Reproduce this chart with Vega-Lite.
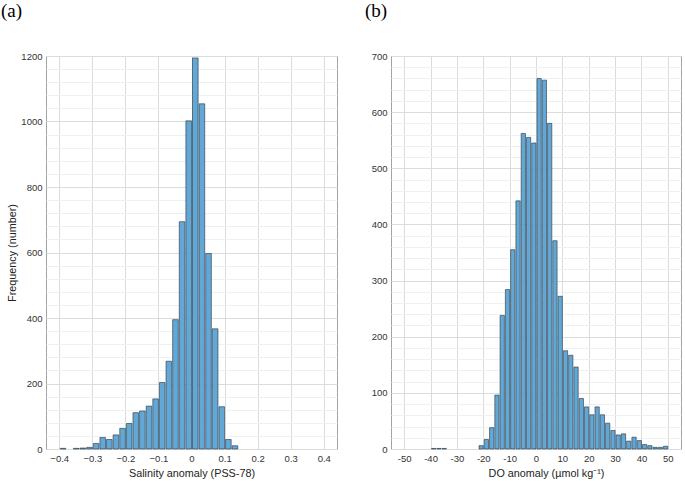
{
  "$schema": "https://vega.github.io/schema/vega-lite/v6.json",
  "padding": {"left": 0, "top": 1, "right": 2, "bottom": 2},
  "background": "white",
  "spacing": 26,
  "config": {
    "view": {"stroke": "#a3a3a3", "strokeWidth": 1},
    "axis": {
      "labelFont": "Liberation Sans",
      "labelFontSize": 9.5,
      "labelColor": "#333333",
      "titleFont": "Liberation Sans",
      "titleFontSize": 10.8,
      "titleFontWeight": "normal",
      "titleColor": "#222222"
    },
    "title": {"font": "Liberation Serif", "fontSize": 19, "fontWeight": "normal", "color": "#000000"}
  },
  "datasets": {
    "sal": [
      {"x0": -0.40, "x1": -0.38, "count": 2},
      {"x0": -0.36, "x1": -0.34, "count": 2},
      {"x0": -0.34, "x1": -0.32, "count": 3},
      {"x0": -0.32, "x1": -0.30, "count": 5},
      {"x0": -0.30, "x1": -0.28, "count": 17},
      {"x0": -0.28, "x1": -0.26, "count": 35},
      {"x0": -0.26, "x1": -0.24, "count": 29},
      {"x0": -0.24, "x1": -0.22, "count": 43},
      {"x0": -0.22, "x1": -0.20, "count": 63},
      {"x0": -0.20, "x1": -0.18, "count": 78},
      {"x0": -0.18, "x1": -0.16, "count": 111},
      {"x0": -0.16, "x1": -0.14, "count": 116},
      {"x0": -0.14, "x1": -0.12, "count": 131},
      {"x0": -0.12, "x1": -0.10, "count": 153},
      {"x0": -0.10, "x1": -0.08, "count": 203},
      {"x0": -0.08, "x1": -0.06, "count": 268},
      {"x0": -0.06, "x1": -0.04, "count": 395},
      {"x0": -0.04, "x1": -0.02, "count": 694},
      {"x0": -0.02, "x1": 0.0, "count": 1002},
      {"x0": 0.0, "x1": 0.02, "count": 1194},
      {"x0": 0.02, "x1": 0.04, "count": 1054},
      {"x0": 0.04, "x1": 0.06, "count": 597},
      {"x0": 0.06, "x1": 0.08, "count": 367},
      {"x0": 0.08, "x1": 0.10, "count": 129},
      {"x0": 0.10, "x1": 0.12, "count": 29},
      {"x0": 0.12, "x1": 0.14, "count": 10}
    ],
    "do": [
      {"x0": -40, "x1": -38, "count": 1},
      {"x0": -38, "x1": -36, "count": 1},
      {"x0": -36, "x1": -34, "count": 1},
      {"x0": -22, "x1": -20, "count": 6},
      {"x0": -20, "x1": -18, "count": 17},
      {"x0": -18, "x1": -16, "count": 38},
      {"x0": -16, "x1": -14, "count": 96},
      {"x0": -14, "x1": -12, "count": 238},
      {"x0": -12, "x1": -10, "count": 284},
      {"x0": -10, "x1": -8, "count": 355},
      {"x0": -8, "x1": -6, "count": 442},
      {"x0": -6, "x1": -4, "count": 562},
      {"x0": -4, "x1": -2, "count": 555},
      {"x0": -2, "x1": 0, "count": 545},
      {"x0": 0, "x1": 2, "count": 660},
      {"x0": 2, "x1": 4, "count": 657},
      {"x0": 4, "x1": 6, "count": 580},
      {"x0": 6, "x1": 8, "count": 371},
      {"x0": 8, "x1": 10, "count": 272},
      {"x0": 10, "x1": 12, "count": 175},
      {"x0": 12, "x1": 14, "count": 167},
      {"x0": 14, "x1": 16, "count": 146},
      {"x0": 16, "x1": 18, "count": 90},
      {"x0": 18, "x1": 20, "count": 75},
      {"x0": 20, "x1": 22, "count": 61},
      {"x0": 22, "x1": 24, "count": 75},
      {"x0": 24, "x1": 26, "count": 61},
      {"x0": 26, "x1": 28, "count": 46},
      {"x0": 28, "x1": 30, "count": 33},
      {"x0": 30, "x1": 32, "count": 25},
      {"x0": 32, "x1": 34, "count": 27},
      {"x0": 34, "x1": 36, "count": 14},
      {"x0": 36, "x1": 38, "count": 21},
      {"x0": 38, "x1": 40, "count": 15},
      {"x0": 40, "x1": 42, "count": 8},
      {"x0": 42, "x1": 44, "count": 6},
      {"x0": 44, "x1": 46, "count": 3},
      {"x0": 46, "x1": 48, "count": 3},
      {"x0": 48, "x1": 50, "count": 5}
    ]
  },
  "hconcat": [
    {
      "width": 291,
      "height": 393,
      "title": {"text": "(a)", "anchor": "start", "frame": "group", "dx": -45, "baseline": "bottom", "offset": 11},
      "data": {"name": "sal"},
      "encoding": {
        "x": {
          "field": "x0", "type": "quantitative", "bin": "binned",
          "scale": {"domain": [-0.44, 0.44], "nice": false, "zero": false},
          "axis": {
            "values": [-0.4, -0.3, -0.2, -0.1, 0, 0.1, 0.2, 0.3, 0.4],
            "format": ".1~f",
            "title": "Salinity anomaly (PSS-78)",
            "grid": true, "gridColor": "#dcdcdc", "gridWidth": 1,
            "ticks": false, "domain": false, "labelPadding": 4, "titlePadding": 5
          }
        },
        "x2": {"field": "x1"}
      },
      "layer": [
        {
          "mark": {"type": "bar", "fill": "#62a8d7", "stroke": "#27313a", "strokeWidth": 0.6},
          "encoding": {
            "y": {
              "field": "count", "type": "quantitative",
              "scale": {"domain": [0, 1200], "nice": false},
              "axis": {
                "orient": "left",
                "values": [0, 200, 400, 600, 800, 1000, 1200],
                "format": "d",
                "title": "Frequency (number)",
                "grid": true, "gridColor": "#dcdcdc", "gridWidth": 1,
                "ticks": false, "domain": false, "labelPadding": 4, "titlePadding": 3
              }
            }
          }
        },
        {
          "mark": {"type": "bar", "opacity": 0},
          "encoding": {
            "y": {
              "field": "count", "type": "quantitative",
              "scale": {"domain": [0, 1200], "nice": false},
              "axis": {
                "orient": "right",
                "values": [40, 80, 120, 160, 240, 280, 320, 360, 440, 480, 520, 560, 640, 680, 720, 760, 840, 880, 920, 960, 1040, 1080, 1120, 1160],
                "labels": false, "ticks": false, "domain": false, "title": null,
                "grid": true, "gridColor": "#f0f0f0", "gridWidth": 1
              }
            }
          }
        }
      ],
      "resolve": {"axis": {"y": "independent"}}
    },
    {
      "width": 290,
      "height": 393,
      "title": {"text": "(b)", "anchor": "start", "frame": "group", "dx": -26, "baseline": "bottom", "offset": 11},
      "data": {"name": "do"},
      "encoding": {
        "x": {
          "field": "x0", "type": "quantitative", "bin": "binned",
          "scale": {"domain": [-55, 55], "nice": false, "zero": false},
          "axis": {
            "values": [-50, -40, -30, -20, -10, 0, 10, 20, 30, 40, 50],
            "format": "d",
            "labelExpr": "replace(datum.label, '−', '-')",
            "title": "DO anomaly (µmol kg⁻¹)",
            "titleX": 155,
            "grid": true, "gridColor": "#dcdcdc", "gridWidth": 1,
            "ticks": false, "domain": false, "labelPadding": 4, "titlePadding": 5
          }
        },
        "x2": {"field": "x1"}
      },
      "layer": [
        {
          "mark": {"type": "bar", "fill": "#62a8d7", "stroke": "#27313a", "strokeWidth": 0.6},
          "encoding": {
            "y": {
              "field": "count", "type": "quantitative",
              "scale": {"domain": [0, 700], "nice": false},
              "axis": {
                "orient": "left",
                "values": [0, 100, 200, 300, 400, 500, 600, 700],
                "format": "d",
                "title": null,
                "grid": true, "gridColor": "#dcdcdc", "gridWidth": 1,
                "ticks": false, "domain": false, "labelPadding": 4
              }
            }
          }
        },
        {
          "mark": {"type": "bar", "opacity": 0},
          "encoding": {
            "y": {
              "field": "count", "type": "quantitative",
              "scale": {"domain": [0, 700], "nice": false},
              "axis": {
                "orient": "right",
                "values": [20, 40, 60, 80, 120, 140, 160, 180, 220, 240, 260, 280, 320, 340, 360, 380, 420, 440, 460, 480, 520, 540, 560, 580, 620, 640, 660, 680],
                "labels": false, "ticks": false, "domain": false, "title": null,
                "grid": true, "gridColor": "#f0f0f0", "gridWidth": 1
              }
            }
          }
        }
      ],
      "resolve": {"axis": {"y": "independent"}}
    }
  ]
}
